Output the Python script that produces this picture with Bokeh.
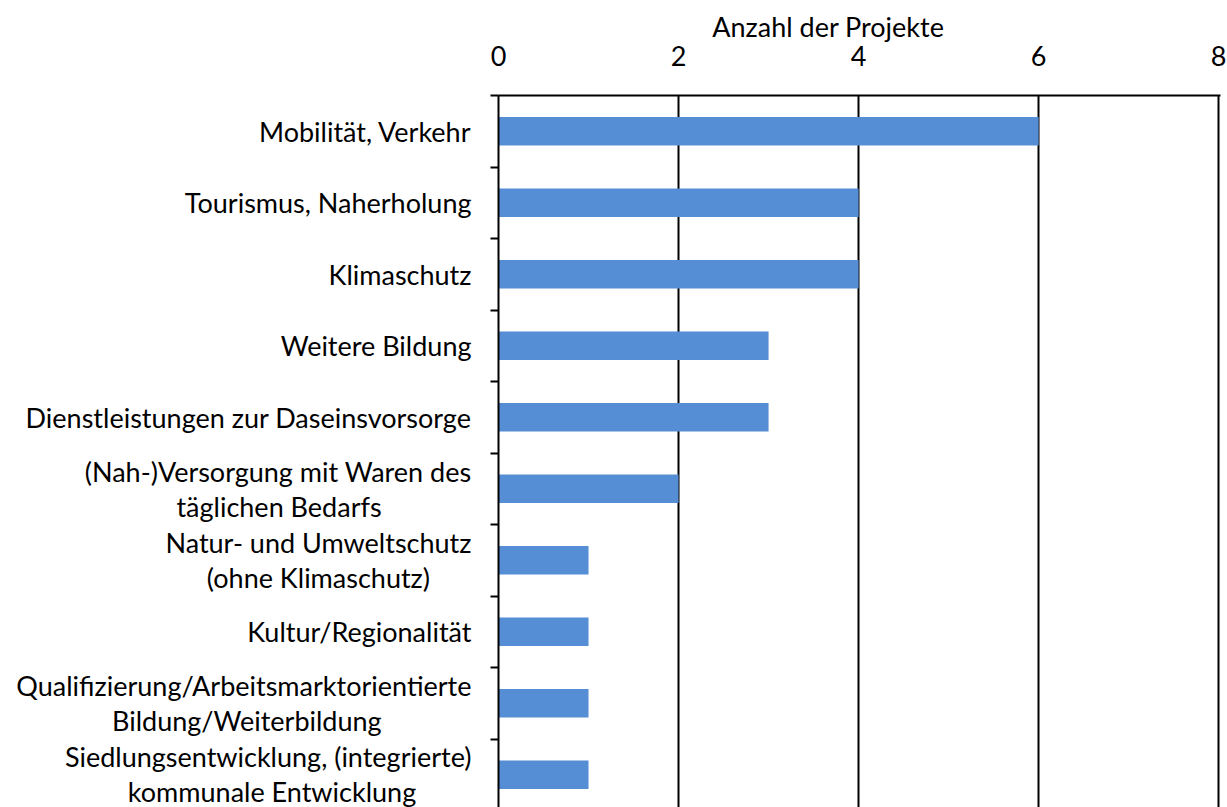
from bokeh.plotting import figure
from bokeh.models import FixedTicker, Range1d
from bokeh.embed import file_html
from bokeh.resources import INLINE

categories = [
    "Mobilität, Verkehr",
    "Tourismus, Naherholung",
    "Klimaschutz",
    "Weitere Bildung",
    "Dienstleistungen zur Daseinsvorsorge",
    "(Nah-)Versorgung mit Waren des\ntäglichen Bedarfs",
    "Natur- und Umweltschutz\n(ohne Klimaschutz)",
    "Kultur/Regionalität",
    "Qualifizierung/Arbeitsmarktorientierte\nBildung/Weiterbildung",
    "Siedlungsentwicklung, (integrierte)\nkommunale Entwicklung",
]
values = [6, 4, 4, 3, 3, 2, 1, 1, 1, 1]
x_ticks = [0, 2, 4, 6, 8]
x_title = "Anzahl der Projekte"

FONT = "Lato"
FS = "27px"
BLUE = "#558ED5"
# presentation only: trailing no-break spaces that centre the 2nd line under the 1st
SECOND_LINE_PAD = {5: 13, 6: 6, 8: 13, 9: 8}
TITLE_PAD = 9  # shifts the axis title a little to the left, as in the original

n = len(categories)
ypos = list(range(n))


def centred(i, text):
    if "\n" not in text:
        return text
    first, second = text.split("\n", 1)
    return first + "\n" + second + "\u00a0" * SECOND_LINE_PAD.get(i, 0)


p = figure(width=1226, height=807, output_backend="svg", toolbar_location=None,
           x_range=Range1d(0, 8.02), y_range=Range1d(9.458, -0.5),
           x_axis_location="above", min_border_left=498, min_border_right=6,
           min_border_top=95, min_border_bottom=0)

p.hbar(y=ypos, right=values, left=0, height=0.4, color=BLUE, line_color=None)

p.outline_line_color = None
p.background_fill_color = "white"

xa = p.xaxis[0]
xa.ticker = FixedTicker(ticks=x_ticks)
xa.axis_label = x_title + "\u00a0" * TITLE_PAD
xa.axis_label_text_font = FONT
xa.axis_label_text_font_size = FS
xa.axis_label_text_font_style = "normal"
xa.axis_label_text_color = "black"
xa.axis_label_standoff = 0
xa.major_label_text_font = FONT
xa.major_label_text_font_size = FS
xa.major_label_text_color = "black"
xa.major_label_standoff = 30
xa.major_tick_out = 0
xa.major_tick_in = 0
xa.minor_tick_out = 0
xa.minor_tick_in = 0
xa.axis_line_color = "black"
xa.axis_line_width = 2

ya = p.yaxis[0]
ya.ticker = FixedTicker(ticks=ypos, minor_ticks=[i - 0.5 for i in range(n)])
ya.major_label_overrides = {i: centred(i, c) for i, c in enumerate(categories)}
ya.major_label_text_font = FONT
ya.major_label_text_font_size = FS
ya.major_label_text_color = "black"
ya.major_label_text_line_height = 1.05
ya.major_label_standoff = 19
ya.major_tick_out = 0
ya.major_tick_in = 0
ya.minor_tick_out = 8
ya.minor_tick_in = 0
ya.minor_tick_line_color = "black"
ya.minor_tick_line_width = 2
ya.axis_line_color = "black"
ya.axis_line_width = 2

p.xgrid.ticker = FixedTicker(ticks=[2, 4, 6, 8])
p.xgrid.grid_line_color = "black"
p.xgrid.grid_line_width = 2
p.ygrid.grid_line_color = None

open("out.html", "w").write(file_html(p, INLINE))
